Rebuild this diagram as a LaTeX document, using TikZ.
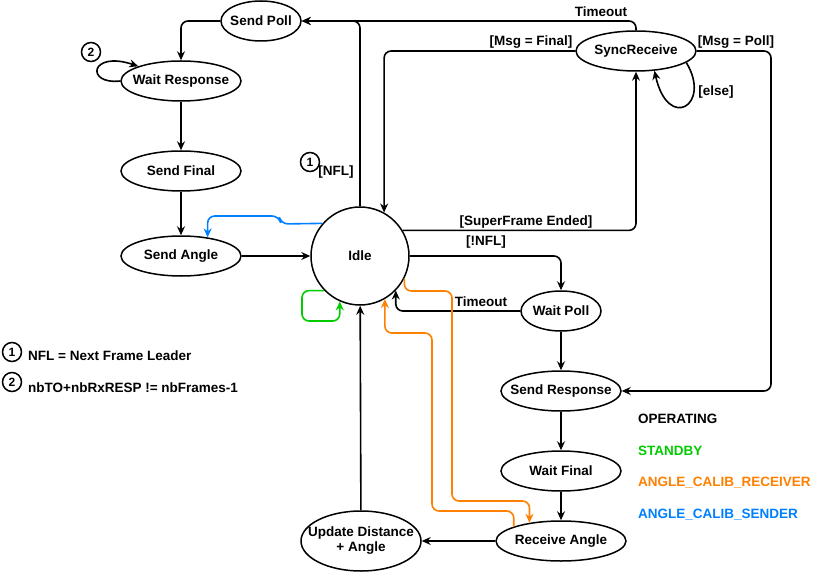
\documentclass[tikz,border=0pt]{standalone}
\usepackage{fontspec}
\setmainfont{Liberation Sans}
\usetikzlibrary{shapes.geometric,arrows.meta}
\definecolor{standby}{HTML}{00CC00}
\definecolor{calibrx}{HTML}{FF8000}
\definecolor{calibtx}{HTML}{007FFF}
\begin{document}
\begin{tikzpicture}[
    x=1pt, y=-1pt,
    every node/.style={font=\bfseries\fontsize{13.5}{15}\selectfont},
    state/.style={ellipse, draw, line width=1.5pt, minimum width=#1, minimum height=40pt, inner sep=-20pt, align=center},
    state/.default=120pt,
    num/.style={circle, draw, line width=1.5pt, inner sep=0pt, minimum size=19pt, font=\bfseries\fontsize{12}{12}\selectfont},
    link/.style={->, line width=1.6pt, rounded corners=7pt},
    >={Stealth[length=9pt, width=8pt, inset=3pt]}
]
\useasboundingbox (0,0) rectangle (827,572);

% States
\node[circle, draw, line width=1.5pt, minimum size=98pt] (idle) at (360,256) {Idle};
\node[state=80pt] (sp) at (261,21) {Send Poll};
\node[state] (wr) at (181,81) {Wait Response};
\node[state] (sf) at (181,171) {Send Final};
\node[state] (sa) at (181,256) {Send Angle};
\node[state] (sr) at (636,51) {SyncReceive};
\node[state=80pt] (wp) at (561,311) {Wait Poll};
\node[state] (sresp) at (561,391) {Send Response};
\node[state] (wf) at (561,471) {Wait Final};
\node[state=130pt] (ra) at (561,541) {Receive Angle};
\node[state, minimum height=60pt] (upd) at (361,541) {Update Distance\\+ Angle};

% Straight transitions
\foreach \a/\b in {wr/sf, sf/sa, sa/idle, wp/sresp, sresp/wf, wf/ra, ra/upd, upd/idle} {
    \draw[link] (\a) -- (\b);
}

% Leader side
\draw[link] (idle.north) |- (sp.east);
\draw[link] (sr.north) |- (sp.east);
\draw[link] (sp.west) -| (wr.north);
\draw[link] (wr.west) .. controls (85,85) and (90,50) .. (wr.161);

% SyncReceive
\draw[link] (idle.31) -| (sr.south);
\draw[link] (sr.west) -| (idle.61);
\draw[link] (sr.east) -- (771,51) |- (sresp.east);
\draw[link] (sr.-13) .. controls (712,105) and (668,132) .. (sr.-47);

% Follower side
\draw[link] (idle.east) -| (wp.north);
\draw[link] (wp.west) -| (idle.-44);

% Other modes
\draw[link, standby] (idle.-136) -| (302,321) -| (idle.-114);
\draw[link, calibtx] (idle.139) -- (281,224) -- (279,216) -| (sa.35);
\draw[link, calibrx] (idle.-27) |- (452,291) -- (452,501) -| (ra.150);
\draw[link, calibrx] (ra.163) |- (432,511) -- (432,333) -| (idle.-60);

% Labels
\node (lTimeoutSr) at (601,12) {Timeout};
\node (lFinal) at (531,42) {[Msg = Final]};
\node (lPoll) at (736,42) {[Msg = Poll]};
\node (lElse) at (716,92) {[else]};
\node (lNfl) at (336,172) {[NFL]};
\node[num] (n1) at (310,162) {1};
\node[num] (n2) at (91,52) {2};
\node (lSuper) at (526,222) {[SuperFrame Ended]};
\node (lNotNfl) at (486,242) {[!NFL]};
\node (lTimeoutWp) at (481,302) {Timeout};

% Legend
\node[num] (k1) at (12,352) {1};
\node[anchor=west, inner sep=0pt] (k1text) at (28,356) {NFL = Next Frame Leader};
\node[num] (k2) at (12,382) {2};
\node[anchor=west, inner sep=0pt] (k2text) at (28,388) {nbTO+nbRxRESP != nbFrames-1};
\foreach \t/\c/\y in {OPERATING/black/419, STANDBY/standby/451, ANGLE\_CALIB\_RECEIVER/calibrx/483, ANGLE\_CALIB\_SENDER/calibtx/515} {
    \node[anchor=west, inner sep=0pt, text=\c] at (638,\y) {\t};
}

\end{tikzpicture}
\end{document}
